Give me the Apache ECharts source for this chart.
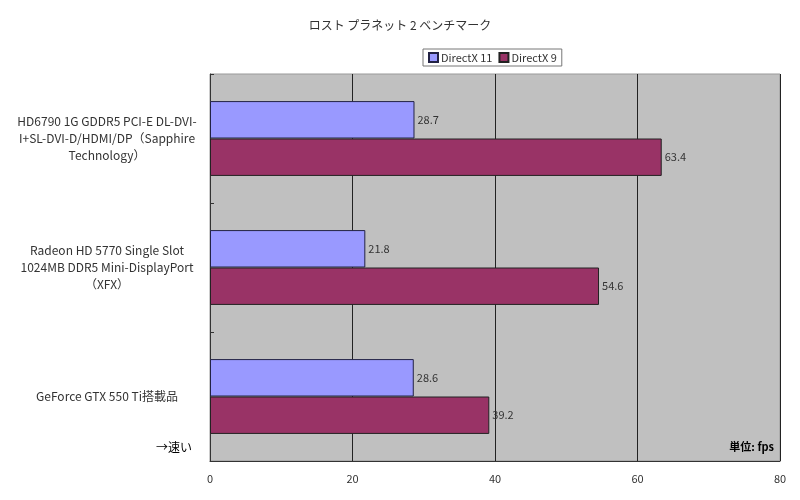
<!DOCTYPE html>
<html>
<head>
<meta charset="utf-8">
<script src="https://cdn.jsdelivr.net/npm/echarts@6/dist/echarts.min.js"></script>
<style>
  html, body { margin: 0; padding: 0; background: #fff; }
  #chart { width: 800px; height: 500px; }
</style>
</head>
<body>
<div id="chart"></div>
<script>
var categories = [
    'HD6790 1G GDDR5 PCI-E DL-DVI-\nI+SL-DVI-D/HDMI/DP（Sapphire\nTechnology）',
    'Radeon HD 5770 Single Slot\n1024MB DDR5 Mini-DisplayPort\n（XFX）',
    'GeForce GTX 550 Ti搭載品'
];
var dx11 = [28.7, 21.8, 28.6];
var dx9 = [63.4, 54.6, 39.2];
var xTicks = [0, 20, 40, 60, 80];

var font = "'Noto Sans CJK JP', 'Noto Sans', sans-serif";
var dom = document.getElementById('chart');
var myChart = echarts.init(dom);

var option = {
    backgroundColor: '#fff',
    textStyle: { fontFamily: font },
    title: {
        text: 'ロスト プラネット 2 ベンチマーク',
        left: 'center',
        top: 14,
        textStyle: { fontSize: 12, fontWeight: 'normal', color: '#333', fontFamily: font }
    },
    legend: {
        data: ['DirectX 11', 'DirectX 9'],
        left: 423,
        top: 49,
        itemWidth: 9,
        itemHeight: 9,
        itemGap: 6,
        padding: [3, 5],
        borderColor: '#777',
        borderWidth: 1,
        icon: 'rect',
        textStyle: { fontSize: 11, color: '#333', padding: [0, 0, 0, -2] }
    },
    grid: {
        left: 210,
        right: 20,
        top: 74,
        bottom: 39,
        show: true,
        backgroundColor: '#c0c0c0',
        borderColor: '#999',
        borderWidth: 1
    },
    xAxis: {
        type: 'value',
        min: 0,
        max: 80,
        interval: 20,
        axisLine: { show: true, lineStyle: { color: '#333' } },
        axisTick: { show: false },
        axisLabel: {
            color: '#333',
            fontSize: 11,
            margin: 12,
            formatter: function (v) { return xTicks.indexOf(v) >= 0 ? v : ''; }
        },
        splitLine: { lineStyle: { color: '#222', width: 1 } }
    },
    yAxis: {
        type: 'category',
        inverse: true,
        data: categories,
        axisLine: { show: true, lineStyle: { color: '#333' } },
        axisTick: { show: true, inside: true, length: 4, lineStyle: { color: '#333' } },
        axisLabel: {
            color: '#333',
            fontSize: 12,
            lineHeight: 17,
            align: 'center',
            margin: 103
        },
        splitLine: { show: false }
    },
    series: [
        {
            name: 'DirectX 11',
            type: 'bar',
            data: dx11,
            barGap: '0%',
            barCategoryGap: '42%',
            itemStyle: { color: '#9999ff', borderColor: '#222244', borderWidth: 1 },
            label: { show: true, position: 'right', distance: 3, color: '#333', fontSize: 11 }
        },
        {
            name: 'DirectX 9',
            type: 'bar',
            data: dx9,
            barGap: '0%',
            barCategoryGap: '42%',
            itemStyle: { color: '#993366', borderColor: '#222', borderWidth: 1 },
            label: { show: true, position: 'right', distance: 3, color: '#333', fontSize: 11 }
        }
    ],
    graphic: [
        {
            type: 'text',
            left: 156,
            top: 441,
            style: { text: '→速い', fontSize: 12, fill: '#000', fontFamily: font }
        },
        {
            type: 'text',
            right: 26,
            top: 441,
            style: { text: '単位: fps', fontSize: 11, fontWeight: 'bold', fill: '#000', fontFamily: font }
        }
    ]
};

if (option && typeof option === "object") {
    myChart.setOption(option, true);
}
</script>
</body>
</html>
